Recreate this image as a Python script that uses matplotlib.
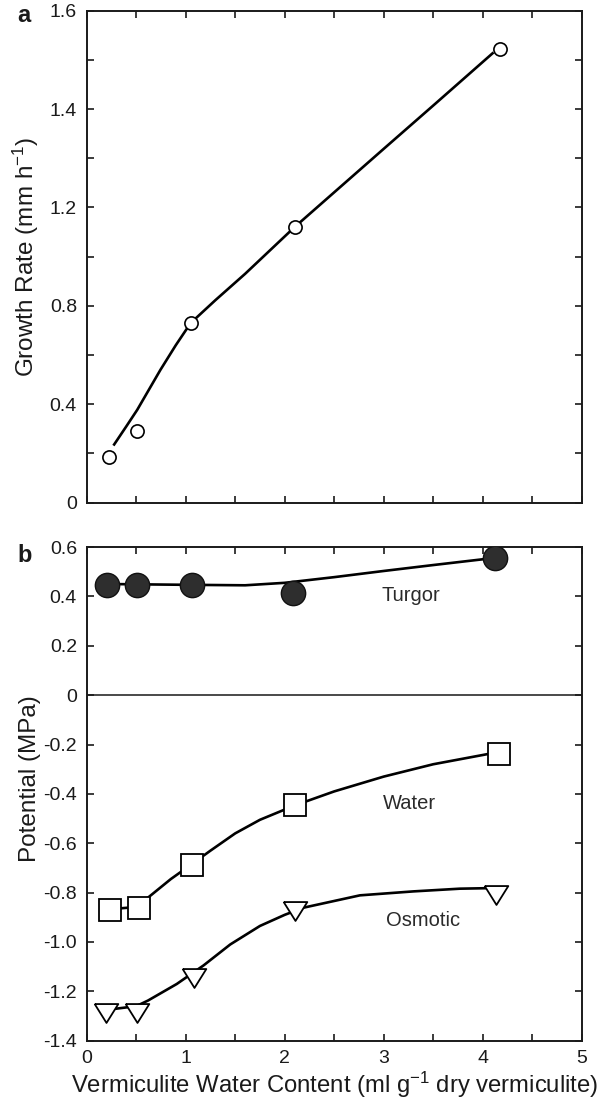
import numpy as np
import matplotlib
matplotlib.use("Agg")
import matplotlib.pyplot as plt

plt.rcParams["font.family"] = ["Liberation Sans", "DejaVu Sans"]
plt.rcParams["mathtext.fontset"] = "custom"
plt.rcParams["mathtext.rm"] = "Liberation Sans"
plt.rcParams["mathtext.it"] = "Liberation Sans"
plt.rcParams["axes.unicode_minus"] = False

INK = "#1a1a1a"

# (a) root elongation rate vs vermiculite water content
growth_x = [0.23, 0.51, 1.05, 2.10, 4.17]
growth_y = [0.187, 0.293, 0.732, 1.12, 1.5225]
growth_fit_x = [0.27, 0.40, 0.51, 0.745, 0.90, 1.05, 1.30, 1.60, 2.10, 3.00, 3.52, 4.11]
growth_fit_y = [0.232, 0.31, 0.377, 0.54, 0.64, 0.73, 0.823, 0.93, 1.12, 1.319, 1.4105, 1.515]

# (b) potentials (MPa)
turgor_x = [0.21, 0.51, 1.06, 2.08, 4.12]
turgor_y = [0.446, 0.446, 0.446, 0.413, 0.555]
turgor_fit_x = [0.25, 1.0, 1.6, 2.0, 2.5, 3.0, 3.5, 4.1]
turgor_fit_y = [0.45, 0.447, 0.445, 0.455, 0.478, 0.503, 0.527, 0.555]

water_x = [0.236, 0.53, 1.06, 2.10, 4.16]
water_y = [-0.872, -0.863, -0.687, -0.447, -0.237]
water_fit_x = [0.30, 0.45, 0.62, 0.85, 1.06, 1.25, 1.50, 1.75, 2.10, 2.50, 3.00, 3.50, 4.10]
water_fit_y = [-0.865, -0.86, -0.82, -0.745, -0.685, -0.63, -0.56, -0.505, -0.447, -0.39, -0.33, -0.28, -0.235]

osm_x = [0.20, 0.505, 1.08, 2.10, 4.13]
osm_y = [-1.287, -1.287, -1.146, -0.874, -0.811]
osm_fit_x = [0.30, 0.50, 0.62, 0.91, 1.18, 1.45, 1.75, 2.00, 2.19, 2.76, 3.30, 3.77, 4.05]
osm_fit_y = [-1.27, -1.26, -1.237, -1.17, -1.095, -1.01, -0.935, -0.89, -0.861, -0.811, -0.795, -0.784, -0.782]

growth_ticks = [0, 0.2, 0.4, 0.6, 0.8, 1.0, 1.2, 1.3, 1.4, 1.5, 1.6]
growth_ticklabels = ["0", "", "0.4", "", "0.8", "", "1.2", "", "1.4", "", "1.6"]
pot_ticks = np.round(np.arange(-1.4, 0.61, 0.2), 1)
x_ticks = np.arange(0, 5.01, 0.5)

# growth axis: 0.4 steps up to 1.2, then 0.2 steps to 1.6 at the same spacing
_val = [0, 1.2, 1.6]
_pos = [0, 1.2, 2.0]
fwd = lambda v: np.interp(v, _val, _pos)
inv = lambda p: np.interp(p, _pos, _val)

fig = plt.figure(figsize=(6.08, 11.04), dpi=100)
ax_a = fig.add_axes([0.1426, 0.5447, 0.8141, 0.4457])
ax_b = fig.add_axes([0.1426, 0.0573, 0.8141, 0.4472])

tri = [(-1, 0.8), (1, 0.8), (0, -0.8), (-1, 0.8)]

for ax in (ax_a, ax_b):
    for s in ax.spines.values():
        s.set_linewidth(1.4)
        s.set_color(INK)
    ax.tick_params(direction="in", length=5, width=1.2, top=True, right=True,
                   labelsize=14, colors=INK, pad=7)
    ax.set_xlim(0, 5)
    ax.set_xticks(x_ticks)

# ---- panel a
ax_a.set_yscale("function", functions=(fwd, inv))
ax_a.set_ylim(0, 1.6)
ax_a.set_yticks(growth_ticks)
ax_a.set_yticklabels(growth_ticklabels)
ax_a.set_xticklabels([])
ax_a.plot(growth_fit_x, growth_fit_y, color="black", lw=1.9, zorder=2,
          solid_capstyle="butt")
ax_a.plot(growth_x, growth_y, "o", ms=9.5, mfc="white", mec="black", mew=1.2,
          ls="none", zorder=3)
ax_a.set_ylabel("Growth Rate (mm h$^{-1}$)", fontsize=17.5, color=INK)
ax_a.yaxis.set_label_coords(-0.092, 0.5)
fig.text(0.040, 0.986, "a", fontsize=17, fontweight="bold", ha="center", va="center", color=INK)

# ---- panel b
ax_b.set_ylim(-1.4, 0.6)
ax_b.set_yticks(pot_ticks)
ax_b.set_yticklabels(["0" if t == 0 else f"{t:.1f}" for t in pot_ticks])
ax_b.set_xticklabels(["0", "", "1", "", "2", "", "3", "", "4", "", "5"])
ax_b.axhline(0, color="#3a3a3a", lw=1.3, zorder=1)

ax_b.plot(turgor_fit_x, turgor_fit_y, color="black", lw=1.9, zorder=2)
ax_b.plot(turgor_x, turgor_y, "o", ms=17.5, mfc="#2e2e2e", mec="#111111", mew=1.0,
          ls="none", zorder=3)
ax_b.plot(water_fit_x, water_fit_y, color="black", lw=1.9, zorder=2)
ax_b.plot(water_x, water_y, "s", ms=15.5, mfc="white", mec="black", mew=1.3,
          ls="none", zorder=3)
ax_b.plot(osm_fit_x, osm_fit_y, color="black", lw=1.9, zorder=2)
ax_b.plot(osm_x, osm_y, marker=tri, ms=17, mfc="white", mec="black", mew=1.3,
          ls="none", zorder=3)

ax_b.text(3.27, 0.405, "Turgor", fontsize=14.5, color="#2a2a2a", ha="center", va="center")
ax_b.text(3.26, -0.44, "Water", fontsize=14.5, color="#2a2a2a", ha="center", va="center")
ax_b.text(3.40, -0.913, "Osmotic", fontsize=14.5, color="#2a2a2a", ha="center", va="center")

ax_b.set_ylabel("Potential (MPa)", fontsize=17.5, color=INK)
ax_b.yaxis.set_label_coords(-0.092, 0.53)
ax_b.set_xlabel("Vermiculite Water Content (ml g$^{-1}$ dry vermiculite)",
                fontsize=17.2, color=INK)
ax_b.xaxis.set_label_coords(0.5, -0.058)
fig.text(0.040, 0.497, "b", fontsize=17, fontweight="bold", ha="center", va="center", color=INK)

fig.savefig("out.png", dpi=100)
